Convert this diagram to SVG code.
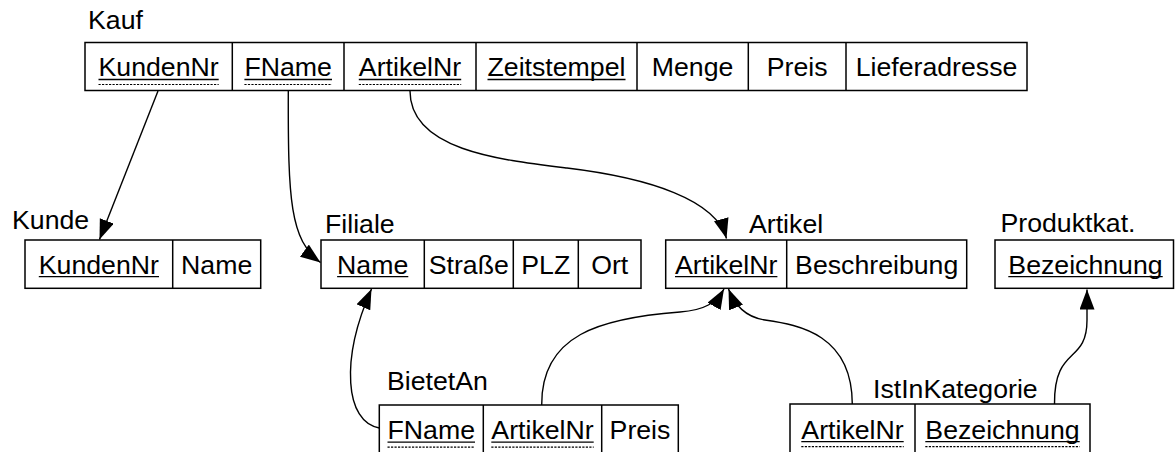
<svg xmlns="http://www.w3.org/2000/svg" width="1175" height="452" viewBox="0 0 1175 452">
  <style>
    text { font-family: "Liberation Sans", Arial, sans-serif; font-size: 26.7px; fill: #000; }
    .c { text-anchor: middle; }
    .box { fill: #fff; stroke: #000; stroke-width: 1.5; }
    .div { stroke: #000; stroke-width: 1.5; }
    .ul { stroke: #000; stroke-width: 1.3; }
    .dl { stroke: #000; stroke-width: 1.2; stroke-dasharray: 2.2 1.3; }
    .conn { fill: none; stroke: #000; stroke-width: 1.4; marker-end: url(#arr); }
  </style>
  <defs>
    <marker id="arr" markerUnits="userSpaceOnUse" markerWidth="22" markerHeight="16" refX="20" refY="7.5" orient="auto">
      <path d="M0,0 L20,7.5 L0,15 z" fill="#000"/>
    </marker>
  </defs>
  <rect width="1175" height="452" fill="#fff"/>

  <g id="kauf">
    <text x="88" y="29">Kauf</text>
    <rect class="box" x="85" y="42.5" width="942" height="48"/>
    <line class="div" x1="232.3" y1="42.5" x2="232.3" y2="90.5"/>
    <line class="div" x1="344" y1="42.5" x2="344" y2="90.5"/>
    <line class="div" x1="476" y1="42.5" x2="476" y2="90.5"/>
    <line class="div" x1="637" y1="42.5" x2="637" y2="90.5"/>
    <line class="div" x1="748.3" y1="42.5" x2="748.3" y2="90.5"/>
    <line class="div" x1="846" y1="42.5" x2="846" y2="90.5"/>
    <text class="c" x="158.6" y="76.3">KundenNr</text>
    <line class="ul" x1="98.5" y1="79.5" x2="218.7" y2="79.5"/>
    <line class="dl" x1="98.5" y1="84.5" x2="218.7" y2="84.5"/>
    <text class="c" x="288.2" y="76.3">FName</text>
    <line class="ul" x1="244.4" y1="79.5" x2="332" y2="79.5"/>
    <line class="dl" x1="244.4" y1="84.5" x2="332" y2="84.5"/>
    <text class="c" x="410" y="76.3">ArtikelNr</text>
    <line class="ul" x1="358.8" y1="79.5" x2="461.2" y2="79.5"/>
    <line class="dl" x1="358.8" y1="84.5" x2="461.2" y2="84.5"/>
    <text class="c" x="556.5" y="76.3">Zeitstempel</text>
    <line class="ul" x1="487.5" y1="79.5" x2="625.5" y2="79.5"/>
    <text class="c" x="692.6" y="76.3">Menge</text>
    <text class="c" x="797.2" y="76.3">Preis</text>
    <text class="c" x="936.5" y="76.3">Lieferadresse</text>
  </g>

  <g id="kunde">
    <text x="12" y="229">Kunde</text>
    <rect class="box" x="25" y="240" width="235.7" height="48.3"/>
    <line class="div" x1="172.7" y1="240" x2="172.7" y2="288.3"/>
    <text class="c" x="98.9" y="273.5">KundenNr</text>
    <line class="ul" x1="38.8" y1="276.7" x2="159" y2="276.7"/>
    <text class="c" x="216.7" y="273.5">Name</text>
  </g>

  <g id="filiale">
    <text x="325" y="233">Filiale</text>
    <rect class="box" x="321" y="240" width="320" height="48.3"/>
    <line class="div" x1="424.3" y1="240" x2="424.3" y2="288.3"/>
    <line class="div" x1="513.3" y1="240" x2="513.3" y2="288.3"/>
    <line class="div" x1="578.3" y1="240" x2="578.3" y2="288.3"/>
    <text class="c" x="372.7" y="273.5">Name</text>
    <line class="ul" x1="337.1" y1="276.7" x2="408.3" y2="276.7"/>
    <text class="c" x="468.8" y="273.5">Straße</text>
    <text class="c" x="545.8" y="273.5">PLZ</text>
    <text class="c" x="609.7" y="273.5">Ort</text>
  </g>

  <g id="artikel">
    <text x="749" y="233">Artikel</text>
    <rect class="box" x="665.7" y="240" width="301" height="48.3"/>
    <line class="div" x1="786.7" y1="240" x2="786.7" y2="288.3"/>
    <text class="c" x="726.2" y="273.5">ArtikelNr</text>
    <line class="ul" x1="675" y1="276.7" x2="777.4" y2="276.7"/>
    <text class="c" x="876.7" y="273.5">Beschreibung</text>
  </g>

  <g id="produktkat">
    <text x="1000.5" y="232">Produktkat.</text>
    <rect class="box" x="995" y="240" width="178.5" height="48.3"/>
    <text class="c" x="1085.5" y="273.5">Bezeichnung</text>
    <line class="ul" x1="1008.3" y1="276.7" x2="1162.7" y2="276.7"/>
  </g>

  <g id="bietetan">
    <text x="387" y="390">BietetAn</text>
    <rect class="box" x="379.3" y="405" width="299" height="50"/>
    <line class="div" x1="483.3" y1="405" x2="483.3" y2="455"/>
    <line class="div" x1="601.7" y1="405" x2="601.7" y2="455"/>
    <text class="c" x="431.3" y="439">FName</text>
    <line class="ul" x1="387.5" y1="442.2" x2="475" y2="442.2"/>
    <line class="dl" x1="387.5" y1="447.2" x2="475" y2="447.2"/>
    <text class="c" x="542.5" y="439">ArtikelNr</text>
    <line class="ul" x1="491.3" y1="442.2" x2="593.7" y2="442.2"/>
    <line class="dl" x1="491.3" y1="447.2" x2="593.7" y2="447.2"/>
    <text class="c" x="640" y="439">Preis</text>
  </g>

  <g id="istinkategorie">
    <text x="873" y="397.5">IstInKategorie</text>
    <rect class="box" x="790" y="404" width="300" height="51"/>
    <line class="div" x1="915" y1="404" x2="915" y2="455"/>
    <text class="c" x="852.5" y="438.5">ArtikelNr</text>
    <line class="ul" x1="801.3" y1="441.7" x2="903.7" y2="441.7"/>
    <line class="dl" x1="801.3" y1="446.7" x2="903.7" y2="446.7"/>
    <text class="c" x="1002.5" y="438.5">Bezeichnung</text>
    <line class="ul" x1="925.3" y1="441.7" x2="1079.7" y2="441.7"/>
    <line class="dl" x1="925.3" y1="446.7" x2="1079.7" y2="446.7"/>
  </g>

  <g id="connectors">
    <path class="conn" d="M158,91 L99.5,239.5"/>
    <path class="conn" d="M288.3,91 C288,200 290,240 320.5,262.5"/>
    <path class="conn" d="M410,91 C410,150 500,160 567,168 C650,178 716,200 726.5,238.5"/>
    <path class="conn" d="M379.3,428 C345,422 340,360 371.5,289"/>
    <path class="conn" d="M541.7,405 C541,335 600,318 680,312 C705,310 716,303 724,289"/>
    <path class="conn" d="M852.3,404 C852,335 800,325 765,320 C745,317 735,305 728.5,289"/>
    <path class="conn" d="M1054.5,404 C1054,345 1087,365 1087,320 L1087,289.5"/>
  </g>
</svg>
